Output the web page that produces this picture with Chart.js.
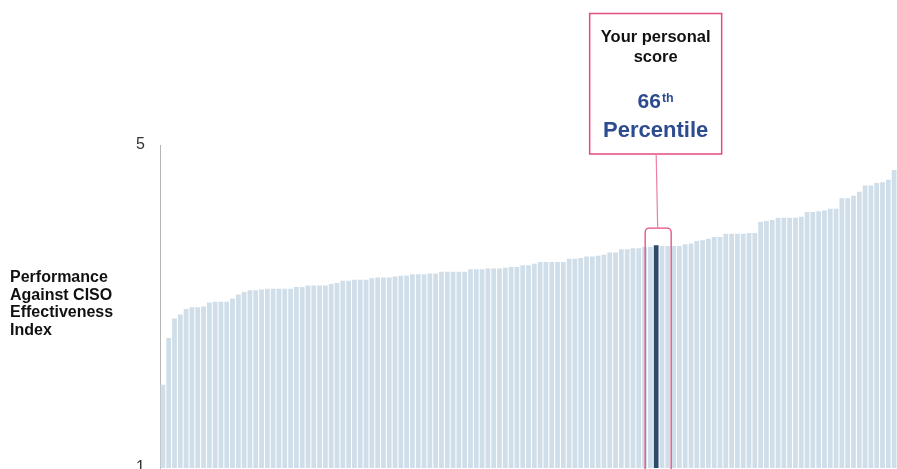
<!DOCTYPE html>
<html>
<head>
<meta charset="utf-8">
<script src="https://cdn.jsdelivr.net/npm/chart.js@4"></script>
<style>
  html, body { margin: 0; padding: 0; background: #ffffff; overflow: hidden; }
  #wrap { position: relative; width: 897px; height: 469px; overflow: hidden; }
  canvas { position: absolute; left: 0; top: 0; }
</style>
</head>
<body>
<div id="wrap"><canvas id="c" width="897" height="500"></canvas></div>
<script>
// ---- data ----
const scores = [
  2.03, 2.61, 2.85, 2.90, 2.97, 2.99, 2.99, 3.00, 3.05, 3.06,
  3.06, 3.06, 3.10, 3.15, 3.18, 3.20, 3.20, 3.21, 3.22, 3.22,
  3.22, 3.22, 3.22, 3.24, 3.24, 3.26, 3.26, 3.26, 3.26, 3.28,
  3.29, 3.32, 3.32, 3.33, 3.33, 3.33, 3.35, 3.36, 3.36, 3.36,
  3.37, 3.38, 3.385, 3.40, 3.40, 3.40, 3.41, 3.41, 3.43, 3.43,
  3.43, 3.43, 3.43, 3.46, 3.46, 3.46, 3.47, 3.47, 3.47, 3.48,
  3.49, 3.49, 3.51, 3.51, 3.53, 3.55, 3.55, 3.55, 3.55, 3.55,
  3.59, 3.59, 3.60, 3.62, 3.62, 3.63, 3.64, 3.67, 3.67, 3.71,
  3.71, 3.72, 3.72, 3.74, 3.74, 3.76, 3.75, 3.75, 3.75, 3.75,
  3.77, 3.78, 3.81, 3.82, 3.84, 3.86, 3.86, 3.90, 3.90, 3.90,
  3.90, 3.91, 3.91, 4.05, 4.06, 4.07, 4.10, 4.10, 4.10, 4.10,
  4.11, 4.17, 4.17, 4.18, 4.19, 4.21, 4.21, 4.34, 4.34, 4.37,
  4.42, 4.50, 4.50, 4.53, 4.54, 4.57, 4.69
];
const respondents = Array.from({ length: scores.length }, (_, i) => String(i + 1));
const highlightIndex = 85;
const yTickValues = [1, 5];
const axisTitleLines = ['Performance', 'Against CISO', 'Effectiveness', 'Index'];
const calloutLines = ['Your personal', 'score'];
const percentileValue = '66';
const percentileSuffix = 'th';
const percentileWord = 'Percentile';

// ---- styles ----
const barColor = '#d0dee9';
const highlightColor = '#2e4a6b';
const pink = '#e54b80';
const blue = '#2d4b8f';
const FONT = '"Liberation Sans", Arial, sans-serif';

const annotationPlugin = {
  id: 'annot',
  afterDraw(chart) {
    const ctx = chart.ctx;
    const xs = chart.scales.x, ys = chart.scales.y;
    const cx = xs.getPixelForValue(highlightIndex);
    const barTop = ys.getPixelForValue(scores[highlightIndex]);
    ctx.save();

    // left axis title
    ctx.fillStyle = '#111111';
    ctx.font = 'bold 16px ' + FONT;
    ctx.textAlign = 'left';
    ctx.textBaseline = 'alphabetic';
    axisTitleLines.forEach((t, i) => ctx.fillText(t, 10, 282 + i * 17.7));

    // bracket around highlighted bar
    const bTop = barTop - 17;
    const bl = cx - 11, br = cx + 15, r = 4;
    const bBottom = chart.chartArea.bottom + 10;
    ctx.strokeStyle = pink;
    ctx.lineWidth = 1.3;
    ctx.beginPath();
    ctx.moveTo(bl, bBottom);
    ctx.lineTo(bl, bTop + r);
    ctx.arcTo(bl, bTop, bl + r, bTop, r);
    ctx.lineTo(br - r, bTop);
    ctx.arcTo(br, bTop, br, bTop + r, r);
    ctx.lineTo(br, bBottom);
    ctx.stroke();

    // callout box
    const boxL = cx - 66.5, boxT = 13.5, boxW = 132, boxH = 140.5;
    ctx.lineWidth = 1.5;
    ctx.strokeRect(boxL, boxT, boxW, boxH);

    // connector
    ctx.lineWidth = 1.2;
    ctx.strokeStyle = '#ee7fa5';
    ctx.beginPath();
    ctx.moveTo(cx, boxT + boxH);
    ctx.lineTo(cx + 1.5, bTop);
    ctx.stroke();

    // callout text
    const tc = boxL + boxW / 2;
    ctx.textAlign = 'center';
    ctx.fillStyle = '#111111';
    ctx.font = 'bold 16.5px ' + FONT;
    ctx.fillText(calloutLines[0], tc, 41.5);
    ctx.fillText(calloutLines[1], tc, 62);

    ctx.fillStyle = blue;
    ctx.font = 'bold 21px ' + FONT;
    const wNum = ctx.measureText(percentileValue).width;
    ctx.font = 'bold 12.5px ' + FONT;
    const wSup = ctx.measureText(percentileSuffix).width;
    const startX = tc - (wNum + wSup + 1) / 2;
    ctx.textAlign = 'left';
    ctx.font = 'bold 21px ' + FONT;
    ctx.fillText(percentileValue, startX, 108.3);
    ctx.font = 'bold 12.5px ' + FONT;
    ctx.fillText(percentileSuffix, startX + wNum + 1, 101.5);
    ctx.textAlign = 'center';
    ctx.font = 'bold 22px ' + FONT;
    ctx.fillText(percentileWord, tc, 136.8);

    ctx.restore();
  }
};

new Chart(document.getElementById('c'), {
  type: 'bar',
  data: {
    labels: respondents,
    datasets: [{
      data: scores,
      backgroundColor: scores.map((_, i) => i === highlightIndex ? highlightColor : barColor),
      borderWidth: 0,
      categoryPercentage: 1.0,
      barPercentage: 0.82
    }]
  },
  options: {
    responsive: false,
    animation: false,
    devicePixelRatio: 1,
    layout: { padding: { left: 0, right: 0, top: 145, bottom: 32 } },
    plugins: { legend: { display: false }, tooltip: { enabled: false } },
    scales: {
      x: { display: false },
      y: {
        min: 1,
        max: 5,
        afterBuildTicks: (s) => { s.ticks = yTickValues.map(v => ({ value: v })); },
        afterFit: (s) => { s.width = 160; },
        grid: { display: false, drawTicks: false },
        border: { display: true, color: '#b5b5b5', width: 1 },
        ticks: {
          padding: 15,
          color: '#333333',
          font: { family: FONT, size: 16 }
        }
      }
    }
  },
  plugins: [annotationPlugin]
});
</script>
</body>
</html>
